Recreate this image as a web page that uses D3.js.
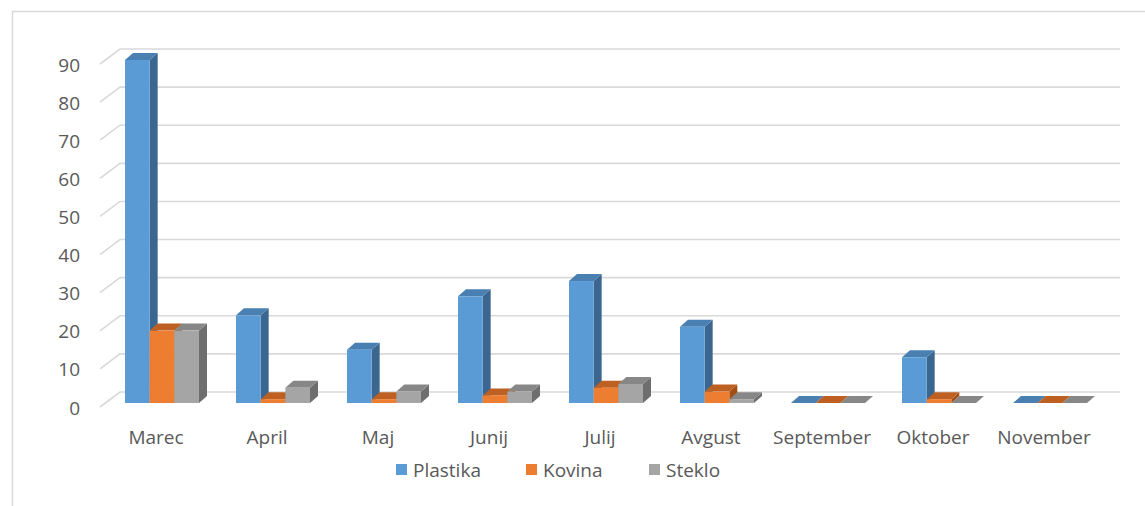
<!DOCTYPE html>
<html><head><meta charset="utf-8">
<script src="https://cdn.jsdelivr.net/npm/d3@7"></script>
<style>body{margin:0;background:#fff}svg{display:block}</style>
</head><body>
<svg id="c" width="1145" height="506"></svg>
<script>
const categories = ["Marec","April","Maj","Junij","Julij","Avgust","September","Oktober","November"];
const seriesNames = ["Plastika","Kovina","Steklo"];
const plastika = [90,23,14,28,32,20,0,12,0];
const kovina   = [19,1,1,2,4,3,0,1,0];
const steklo   = [19,4,3,3,5,1,0,0,0];
const yTicks = [0,10,20,30,40,50,60,70,80,90];

const seriesValues = [plastika, kovina, steklo];
const colors = {
  front: ["#5B9BD5","#ED7D31","#A5A5A5"],
  top:   ["#4A7FB2","#BD6021","#878787"],
  side:  ["#3B6690","#A34E15","#6E6E6E"]
};
const font = "'Open Sans', sans-serif";
const textCol = "#595959";

const svg = d3.select("#c");
// chart border
svg.append("rect").attr("x",12.5).attr("y",11.5).attr("width",1200).attr("height",600)
  .attr("fill","none").attr("stroke","#d9d9d9").attr("stroke-width",1.5);

const y = d3.scaleLinear().domain([0,90]).range([403,60]);
const wallDx = 20, wallDy = -15, wallFrontX = 100, wallBackRight = 1120;
const x = d3.scaleBand().domain(categories).range([106.5,1105.5]).paddingInner(1/3).paddingOuter(1/6);
const xs = d3.scaleBand().domain(seriesNames).range([0,x.bandwidth()]);
const dX = 8, dY = -7;

// gridlines on back wall + left diagonals
const g = svg.append("g");
yTicks.forEach(t => {
  const yf = y(t) + 4; // front-left end of diagonal
  g.append("path")
    .attr("d", `M${wallFrontX},${yf}L${wallFrontX+wallDx},${yf+wallDy}L${wallBackRight},${yf+wallDy}`)
    .attr("fill","none").attr("stroke","#d9d9d9").attr("stroke-width",1.6);
  g.append("text").attr("x",80).attr("y",yf+2.5).attr("text-anchor","end")
    .attr("dominant-baseline","middle").attr("font-family",font).attr("font-size",19)
    .attr("fill",textCol).text(t);
});

// bars
const bars = svg.append("g");
categories.forEach((c,ci) => {
  seriesNames.forEach((s,si) => {
    const v = seriesValues[si][ci];
    const x0 = x(c) + xs(s), w = xs.bandwidth();
    const yt = y(v), yb = y(0);
    // side face
    bars.append("path").attr("d",
      `M${x0+w},${yb}L${x0+w+dX},${yb+dY}L${x0+w+dX},${yt+dY}L${x0+w},${yt}Z`)
      .attr("fill",colors.side[si]);
    // top face
    bars.append("path").attr("d",
      `M${x0},${yt}L${x0+dX},${yt+dY}L${x0+w+dX},${yt+dY}L${x0+w},${yt}Z`)
      .attr("fill",colors.top[si]);
    // front face
    if (v > 0) bars.append("rect").attr("x",x0).attr("y",yt).attr("width",w).attr("height",yb-yt)
      .attr("fill",colors.front[si]);
  });
});

// category labels
svg.append("g").selectAll("text").data(categories).join("text")
  .attr("x", d => x(d) + x.bandwidth()/2 - 6).attr("y", 444)
  .attr("text-anchor","middle").attr("font-family",font).attr("font-size",19)
  .attr("fill",textCol).text(d => d);

// legend
const legX = [396, 526, 649];
const leg = svg.append("g");
seriesNames.forEach((s,i) => {
  leg.append("rect").attr("x",legX[i]).attr("y",464).attr("width",11).attr("height",11)
    .attr("fill",colors.front[i]);
  leg.append("text").attr("x",legX[i]+17).attr("y",476.5).attr("font-family",font)
    .attr("font-size",19).attr("fill",textCol).text(s);
});
</script>
</body></html>
